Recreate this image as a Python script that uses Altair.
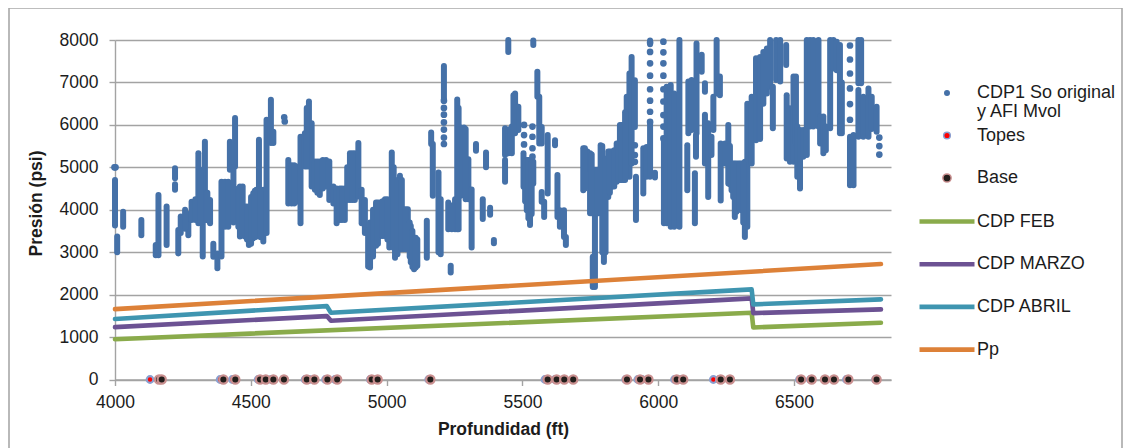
import altair as alt
import pandas as pd

# --- dense runs of the CDP1 series: depth (ft), top and bottom pressure (psi)
strip_depth = [4000,4008,4030,4097,4160,4190,4150,4221,4221,4233,4242,4270,4282,4307,4331,4323,4350,4362,4377,4392,4405,4417,4423,4442,4436,4454,
 4460,4478,4493,4509,4521,4530,4546,4558,4574,4583,4638,4650,4669,4683,4699,4714,4724,4736,4754,4777,4789,4804,4816,4828,4846,4865,4883,4896,4908,4920,4932,
 4939,4961,4976,4994,5019,5010,5031,5049,5062,5078,5089,5101,5113,5148,5164,5170,5191,5199,5211,5227,5252,5260,5273,5285,5301,5313,5329,5354,5366,5381,5395,5236,
 5448,5540,5436,5436,5448,5461,5473,5485,5504,5516,5528,5540,5555,5562,5571,5593,5620,5571,5580,5629,5638,5653,5660,5724,5739,5749,5759,5767,5780,5788,5800,5816,5829,5847,5859,5872,5884,5894,
 5902,5914,5918,5945,5957,5970,5970,5988,6021,6031,6046,6059,6078,6111,6107,6123,6141,6139,6135,6160,6172,6172,6184,6196,6203,6215,6227,6230,6246,6258,6270,6282,6295,6307,6319,6328,6344,6360,6372,
 6375,6387,6400,6412,6422,6434,6449,6471,6473,6485,6498,6507,6512,6522,6534,6547,6559,6571,6590,6596,6608,6617,6633,6645,6657,6669,6676,6706,6719,6737,6747,6737,6755,6774,6786,6804,
 4258,4296,4315,4340,4470,4486,4501,4515,4536,4660,4706,4745,4765,4836,4855,4874,
 4950,4968,4985,5003,5026,5040,5056,5070,5085,5095,5107,5240,5265,5278,5291,
 5455,5467,5510,5522,5534,5730,5755,5775,5794,5806,5822,5838,5853,5865,5878,6264,6276,6288,6301,6313]
strip_top = [4700,3370,3950,3760,4350,4075,3170,4980,4600,3520,3840,3900,4190,5330,5600,4940,4230,3200,2970,4660,4660,4660,5600,6160,5000,4500,
 4550,4075,4000,4390,4470,5650,4470,6120,6590,5840,5175,5050,5020,5720,5800,6550,6040,5135,5135,5175,5135,4550,4500,4500,4500,5330,5330,5570,4470,4230,3520,
 3700,4170,4170,4250,5350,3700,4480,4800,4010,4010,3620,3340,3300,3740,5820,5550,4880,4250,7390,4170,4250,6600,5940,5940,5190,4480,5550,4250,5350,4050,3290,2680,
 8000,7990,5920,5170,5880,5960,6740,6430,5330,5170,5170,5130,7250,6660,5950,5760,5640,4420,4190,4820,3990,3990,3360,5450,5370,5330,2890,4940,4940,5520,5090,5370,5370,5560,6000,6000,6660,7210,
 7600,7050,4780,5450,5480,7990,6070,4870,5640,6900,6940,6740,8000,7020,5520,7060,7920,5760,4860,7650,6980,6240,6040,5720,6660,8000,7140,5560,5560,6000,5090,5090,5090,5090,5130,6500,6660,7570,7570,
 7600,7720,7800,8000,6900,8000,8000,7880,6700,6390,7140,7140,5960,5880,5880,8000,8000,8000,8000,6200,6200,5960,8000,8000,7960,7880,7000,5720,5760,8000,8000,6820,6660,6860,6660,6430,
 4000,4250,4900,4400,4550,4075,4300,4450,4450,5050,6400,5135,5175,4500,5000,5330,
 4000,4170,4200,4250,5000,4700,4700,4010,3700,3500,3340,4100,6400,5900,5900,
 5900,6700,5150,5170,5100,5450,5300,4940,5500,5200,5370,5400,5560,6000,6300,5500,5090,5090,5090,5090]
strip_bottom = [3630,3000,3600,3400,2930,3170,2930,4740,4470,2970,3450,3400,3760,3680,3760,2900,3680,2890,2620,2900,3600,3600,4940,5020,3700,3600,
 3370,3370,3170,3330,3370,4390,3250,3450,5570,5570,4150,4150,4190,3680,5020,5020,4550,4470,4350,4550,4230,4150,3680,3760,3760,4230,4230,4310,3680,3450,2660,
 2640,3150,3380,3380,3700,3110,2870,3070,3070,3070,2760,2600,2680,2870,5550,4330,3000,2950,6600,3540,3540,3540,4330,4480,4250,3110,5390,3780,5000,3880,3210,2520,
 7720,7880,5290,4660,5330,5330,5800,5880,4540,3990,3640,4620,6660,5560,5560,4380,5520,4190,3830,3830,3600,3360,3170,4460,4940,3920,2180,2180,3920,3920,2770,4300,4540,4660,4700,4700,4780,4780,
 5090,5950,3760,4380,4780,7900,4780,4760,3680,3680,3600,3600,3600,5800,4460,5880,5800,5250,3680,7250,6780,5090,4300,5290,5880,6740,6700,4220,5090,4620,4460,3830,4070,3990,3360,3600,5090,5640,5710,
 5670,6500,6740,6900,5920,7060,7020,7410,5210,5130,5130,5560,4780,4500,5250,5290,5960,5960,5960,5560,5330,5400,5920,7330,7290,5800,5800,4580,4580,6980,6980,5720,5720,5720,5900,5840,
 3550,3760,3700,3750,3400,3300,3200,3350,3350,4150,5020,4400,4500,3760,4230,4230,
 2900,3200,3380,3300,3100,2950,3070,3070,2900,2650,2640,3540,3540,4350,4250,
 5350,5800,4200,3800,3900,4500,3920,3920,3000,3000,4400,4550,4700,4700,4700,4600,4300,3950,4000,3700]

# --- isolated CDP1 points, tops and bases along the depth axis
point_depth = [3998,4002,4623,4625,5211,5211,5211,5211,5211,5211,5211,5506,5506,5506,5537,5537,5537,5537,
 5970,5970,5970,5970,5970,5970,5970,5970,6019,6019,6019,6019,6019,6019,6019,6019,6019,5914,5914,5914,
 6706,6706,6706,6706,6706,6706,6814,6814,6814]
point_pres = [5000,5000,6180,6080,6570,6400,6240,6060,5890,5700,5550,6000,5760,5540,5960,5720,5450,5250,
 7940,7720,7450,7160,6840,6570,6310,6070,7960,7710,7450,7160,6840,6550,6230,5960,5680,5520,5290,5130,
 7870,7540,7210,6860,6490,6120,5700,5500,5300]
topes_depth = [4129,4387,4432,4527,4550,4575,4700,4715,4775,4810,4940,5155,5583,5620,5880,5925,5940,6060,6085,6203,6225,6520,6560,6693,6800]
base_depth = [4162,4172,4399,4443,4534,4555,4583,4622,4706,4734,4782,4818,4945,4967,5161,
 5593,5626,5654,5687,5885,5933,5964,6068,6092,6230,6264,6526,6565,6614,6647,6700,6804]

# --- pressure lines
feb_depth, feb_pres = [4000,6344,6350,6820], [950,1572,1227,1337]
marzo_depth, marzo_pres = [4000,4780,4795,6344,6350,6820], [1235,1494,1384,1911,1565,1652]
abril_depth, abril_pres = [4000,4780,4795,6344,6350,6820], [1424,1730,1572,2123,1770,1888]
pp_depth, pp_pres = [4000,6820], [1659,2720]

CDP1, TOPES, BASE = "CDP1 So original", "Topes", "Base"
CDP1_LINE2 = "y AFI Mvol"
point_names = [CDP1, TOPES, BASE]
line_names = ["CDP FEB", "CDP MARZO", "CDP ABRIL", "Pp"]
y_ticks = [0,1000,2000,3000,4000,5000,6000,7000,8000]
x_ticks = [4000,4500,5000,5500,6000,6500]

FONT = "Liberation Sans"
TXT = "#1c1c1c"
GRID = "#a3a3a3"
BLUE = "#4571a8"

xs = alt.Scale(domain=[4000,6857], nice=False, zero=False)
ys = alt.Scale(domain=[0,8000], nice=False)

xaxis = alt.Axis(values=x_ticks, format="d", grid=False, title="Profundidad (ft)", tickSize=6, tickColor=GRID, domainColor=GRID,
    domainWidth=1.4, tickWidth=1.4, labelFont=FONT, labelFontSize=17.5, labelColor=TXT, labelPadding=8,
    titleFont=FONT, titleFontSize=17.5, titleFontWeight="bold", titleColor=TXT, titleY=41, labelFlush=False)
yaxis = alt.Axis(values=y_ticks, format="d", grid=True, gridColor=GRID, gridWidth=1.4, title="Presión (psi)", tickSize=6, tickColor=GRID,
    domainColor=GRID, domainWidth=1.4, tickWidth=1.4, labelFont=FONT, labelFontSize=17.5, labelColor=TXT, labelPadding=11,
    titleFont=FONT, titleFontSize=17.5, titleFontWeight="bold", titleColor=TXT, titleX=-70, titleY=163)

strips = pd.DataFrame({"d": strip_depth, "t": strip_top, "b": strip_bottom})
points = pd.DataFrame({
    "d": point_depth + topes_depth + base_depth,
    "p": point_pres + [0]*len(topes_depth) + [0]*len(base_depth),
    "serie": [CDP1]*len(point_depth) + [TOPES]*len(topes_depth) + [BASE]*len(base_depth),
})
lines = pd.concat([
    pd.DataFrame({"d": d, "p": p, "serie": n})
    for n, d, p in zip(line_names, [feb_depth, marzo_depth, abril_depth, pp_depth],
                       [feb_pres, marzo_pres, abril_pres, pp_pres])
])

frame = alt.Chart(pd.DataFrame({"a": [0]})).mark_rect(fill="transparent", stroke="#a8a8a8", strokeWidth=1.6).encode(
    x=alt.value(-106), x2=alt.value(1007), y=alt.value(-32), y2=alt.value(460))

bars = alt.Chart(strips).mark_rule(strokeWidth=6, strokeCap="round", color=BLUE).encode(
    x=alt.X("d:Q", scale=xs, axis=xaxis),
    y=alt.Y("t:Q", scale=ys, axis=yaxis),
    y2="b:Q",
)

pt_legend = alt.Legend(title=None, orient="none", legendX=823, legendY=40, labelFont=FONT, labelFontSize=18,
    labelColor=TXT, labelOffset=21, labelLimit=300, clipHeight=26, rowPadding=16.5, symbolOpacity=1)

pts = alt.Chart(points).mark_point(filled=True, opacity=1, strokeWidth=2.2).encode(
    x=alt.X("d:Q", scale=xs, axis=xaxis),
    y=alt.Y("p:Q", scale=ys, axis=yaxis),
    fill=alt.Fill("serie:N", sort=point_names, scale=alt.Scale(domain=point_names, range=[BLUE, "#ff0000", "#231f1c"]), legend=pt_legend),
    stroke=alt.Stroke("serie:N", sort=point_names, scale=alt.Scale(domain=point_names, range=[BLUE, "#8a9fd0", "#c98f8f"]), legend=pt_legend),
    size=alt.Size("serie:N", sort=point_names, scale=alt.Scale(domain=point_names, range=[20, 68, 68]), legend=pt_legend),
)

lns = alt.Chart(lines).mark_line(strokeWidth=4.6, strokeCap="round", strokeJoin="round").encode(
    x=alt.X("d:Q", scale=xs, axis=xaxis),
    y=alt.Y("p:Q", scale=ys, axis=yaxis),
    color=alt.Color("serie:N", sort=line_names, scale=alt.Scale(domain=line_names, range=["#8aab4b", "#6c5293", "#3f95b0", "#dd8138"]),
        legend=alt.Legend(title=None, orient="none", legendX=802, legendY=168.5, symbolType="stroke", symbolSize=3025,
            symbolStrokeWidth=4.6, labelFont=FONT, labelFontSize=18, labelColor=TXT, labelOffset=0, clipHeight=26, rowPadding=16.7, labelLimit=300)),
    detail="serie:N",
)

line2 = alt.Chart(pd.DataFrame({"t": [CDP1_LINE2]})).mark_text(font=FONT, fontSize=18, color=TXT, align="left", baseline="middle").encode(
    text="t:N", x=alt.value(862), y=alt.value(72))

chart = alt.layer(frame, bars, pts, lns, line2).properties(
    width=776, height=339.5,
    autosize=alt.AutoSizeParams(type="none"),
    padding={"left": 107, "top": 32, "right": 232, "bottom": 68},
    background="white",
).configure_view(stroke=None)

chart.save("out.html", embed_options={"renderer": "svg", "actions": False})
